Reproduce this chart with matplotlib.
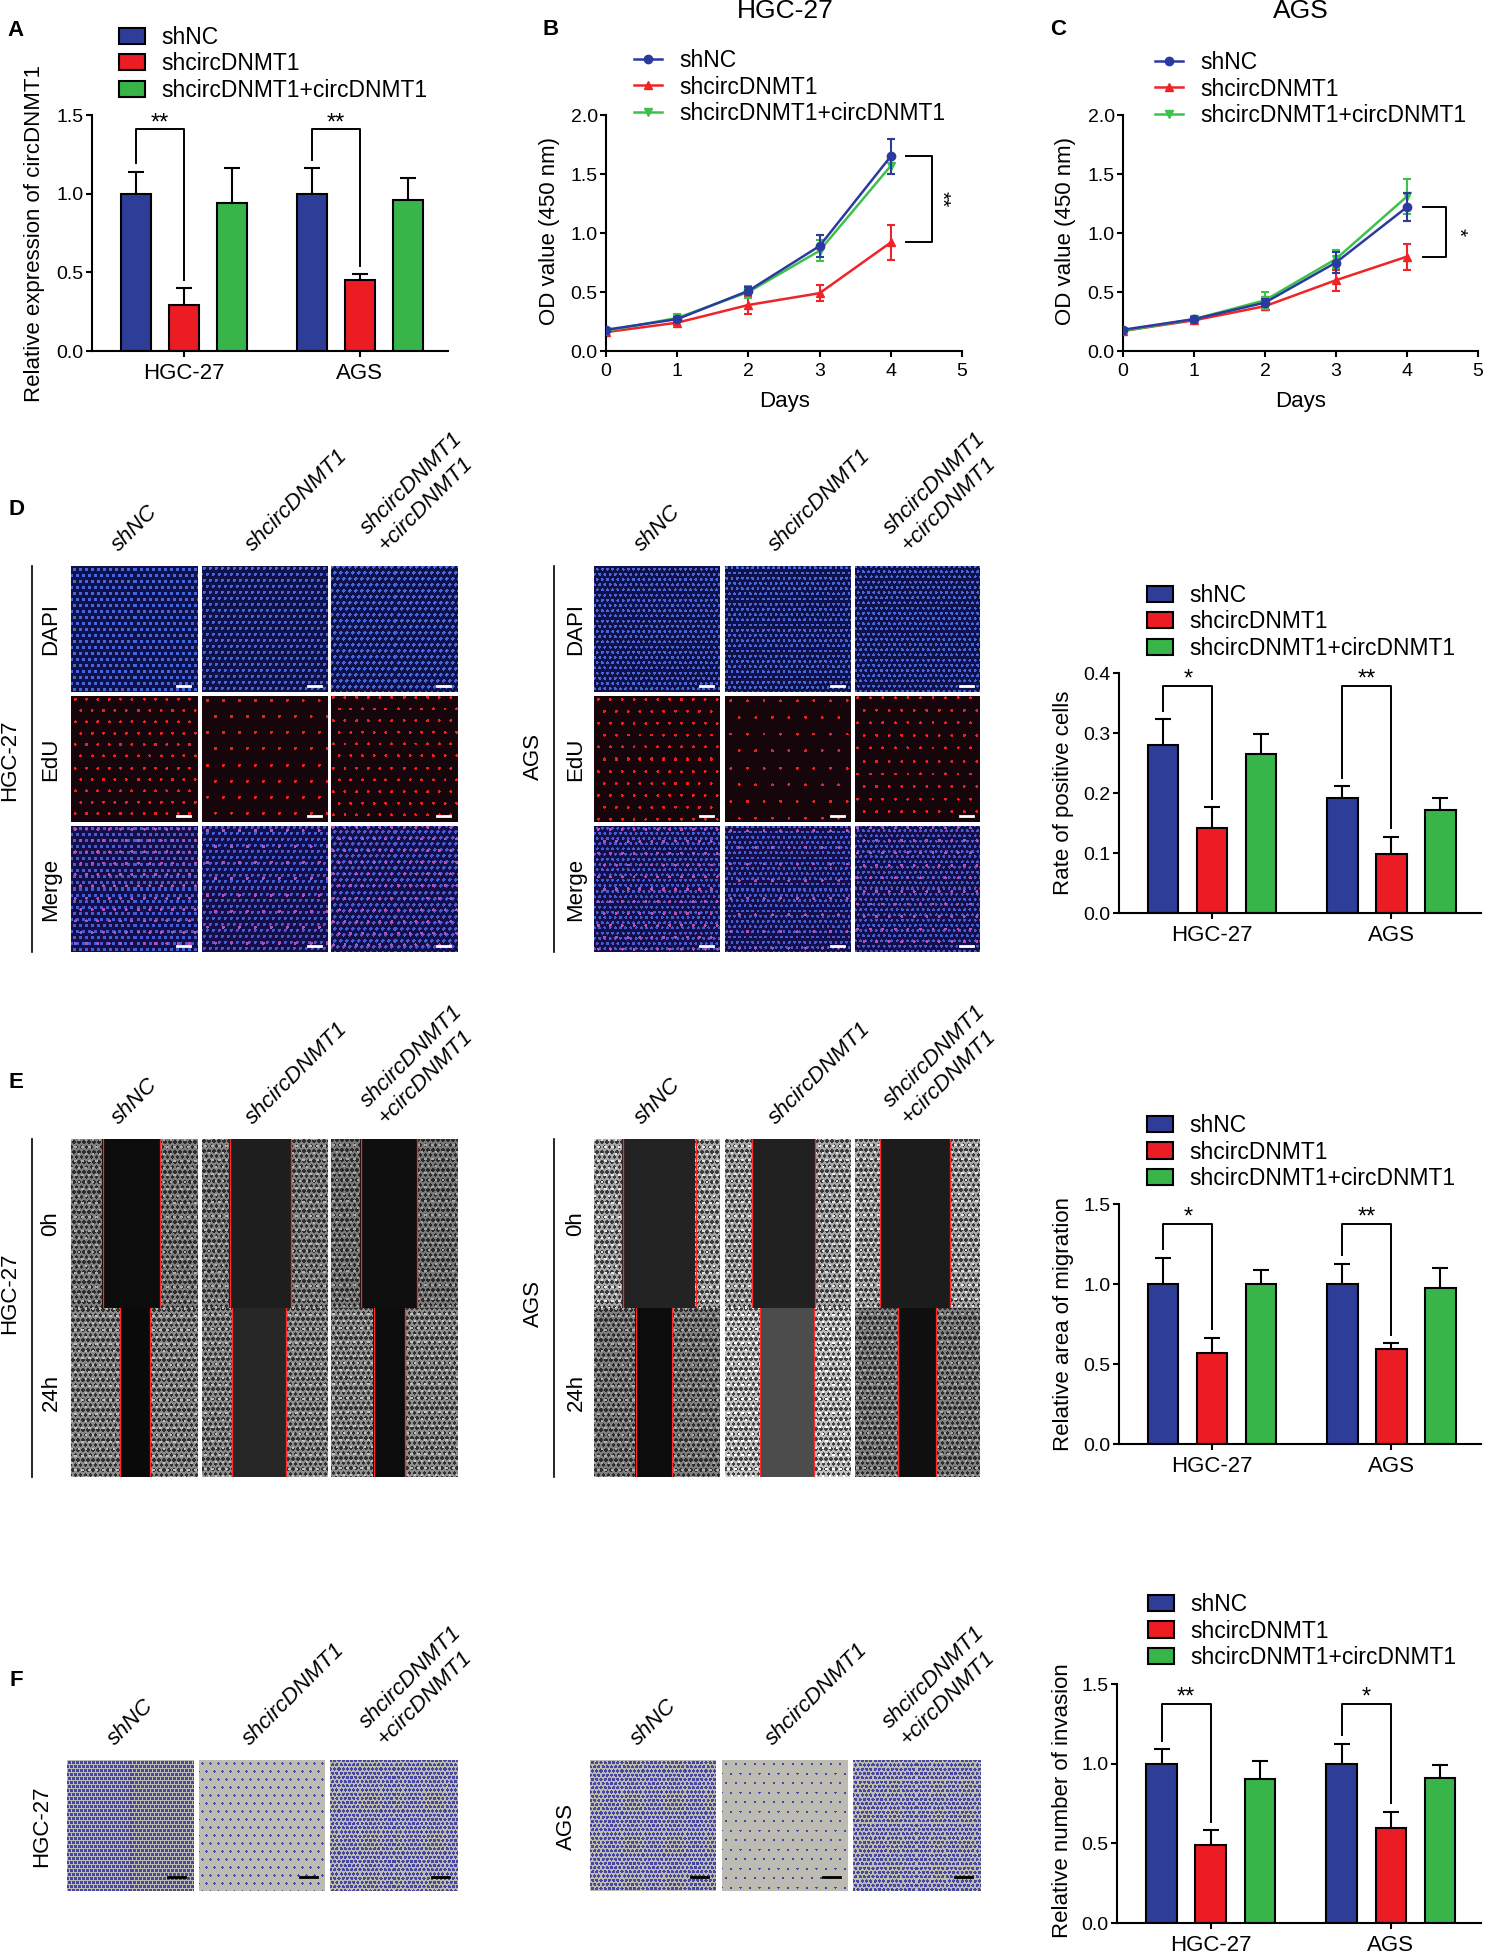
import numpy as np
import matplotlib.pyplot as plt
from matplotlib.lines import Line2D

plt.rcParams['font.family'] = ['Liberation Sans', 'DejaVu Sans']

W, H = 1485, 1951

groups = ["HGC-27", "AGS"]
conds = ["shNC", "shcircDNMT1", "shcircDNMT1+circDNMT1"]
col_labels = ["shNC", "shcircDNMT1", "shcircDNMT1\n+circDNMT1"]
bar_colors = ["#2e3d98", "#ec1c24", "#38b549"]
line_colors = ["#2b3a9e", "#ee2428", "#3cc24b"]
line_markers = ['o', '^', 'v']

# A: relative expression of circDNMT1, per condition -> [HGC-27, AGS]
a_mean = [[1.00, 1.00], [0.29, 0.45], [0.94, 0.96]]
a_err = [[0.14, 0.16], [0.11, 0.04], [0.22, 0.14]]
a_sig = ["**", "**"]

# B / C: CCK-8 growth curves, OD 450 nm
days = [0, 1, 2, 3, 4]
b_mean = [[0.18, 0.27, 0.51, 0.89, 1.65],
          [0.16, 0.24, 0.39, 0.49, 0.92],
          [0.17, 0.28, 0.50, 0.85, 1.57]]
b_err = [[0.01, 0.02, 0.03, 0.09, 0.15],
         [0.01, 0.02, 0.08, 0.07, 0.15],
         [0.01, 0.03, 0.05, 0.09, 0.07]]
c_mean = [[0.18, 0.27, 0.41, 0.75, 1.22],
          [0.17, 0.26, 0.38, 0.60, 0.80],
          [0.17, 0.27, 0.43, 0.78, 1.31]]
c_err = [[0.01, 0.02, 0.03, 0.09, 0.12],
         [0.01, 0.02, 0.03, 0.09, 0.11],
         [0.01, 0.02, 0.07, 0.08, 0.15]]

# D: EdU positive rate
d_mean = [[0.280, 0.192], [0.141, 0.098], [0.265, 0.172]]
d_err = [[0.043, 0.019], [0.035, 0.029], [0.034, 0.019]]
d_sig = ["*", "**"]

# E: relative migration area
e_mean = [[1.00, 1.00], [0.566, 0.596], [1.00, 0.975]]
e_err = [[0.164, 0.127], [0.099, 0.033], [0.085, 0.125]]
e_sig = ["*", "**"]

# F: relative invasion number
f_mean = [[1.00, 1.00], [0.488, 0.595], [0.905, 0.909]]
f_err = [[0.090, 0.125], [0.095, 0.103], [0.111, 0.080]]
f_sig = ["**", "*"]

fig = plt.figure(figsize=(W / 100, H / 100), dpi=100)


def px_axes(l, t, r, b):
    return fig.add_axes([l / W, 1 - b / H, (r - l) / W, (b - t) / H])


def ftext(x, y, s, **kw):
    return fig.text(x / W, 1 - y / H, s, **kw)


def style_axes(ax):
    for s in ['top', 'right']:
        ax.spines[s].set_visible(False)
    for s in ['left', 'bottom']:
        ax.spines[s].set_linewidth(1.5)
    ax.tick_params(axis='both', direction='out', length=4.5, width=1.5)
    ax.tick_params(axis='y', labelsize=14, pad=1.5)


def bar_panel(box, means, errs, sigs, ymax, ystep, top, ylabel, ylab_xy, leg_xy):
    ax = px_axes(*box)
    x = np.arange(len(groups))
    offs = [-0.273, 0.0, 0.273]
    for i in range(3):
        ax.bar(x + offs[i], means[i], 0.17, color=bar_colors[i], edgecolor='black',
               linewidth=1.5, label=conds[i], zorder=2)
        ax.errorbar(x + offs[i], means[i], yerr=errs[i], fmt='none', ecolor='black',
                    elinewidth=1.5, capsize=5.5, capthick=1.5, zorder=1)
    gap = 0.035 * ymax
    for g in range(len(groups)):
        xl, xr = x[g] + offs[0], x[g] + offs[1]
        yl = means[0][g] + errs[0][g] + gap
        yr = means[1][g] + errs[1][g] + gap
        ax.plot([xl, xl, xr, xr], [yl, top, top, yr], color='black', lw=1.4, zorder=3)
        ax.text((xl + xr) / 2, top, sigs[g], ha='center', va='baseline', fontsize=17)
    ax.set_xlim(-0.52, 1.5)
    ax.set_ylim(0, ymax)
    yt = np.arange(0, ymax + ystep / 2, ystep)
    ax.set_yticks(yt)
    ax.set_yticklabels([f"{v:.1f}" for v in yt])
    ax.set_xticks(x)
    ax.set_xticklabels(groups, fontsize=16)
    style_axes(ax)
    ax.tick_params(axis='x', pad=4)
    ax.legend(loc='center left', bbox_to_anchor=(leg_xy[0] / W, 1 - leg_xy[1] / H),
              bbox_transform=fig.transFigure, frameon=False, fontsize=16.5,
              handlelength=1.15, handleheight=0.7, handletextpad=0.7,
              labelspacing=0.15, borderpad=0, borderaxespad=0)
    ftext(ylab_xy[0], ylab_xy[1], ylabel, rotation=90, ha='center', va='center', fontsize=16)
    return ax


def line_panel(box, means, errs, title, title_x, sig, br_x, star_x, leg_xy, ylab_x):
    ax = px_axes(*box)
    zs = [4, 2, 3]
    for i in range(3):
        ax.errorbar(days, means[i], yerr=errs[i], color=line_colors[i],
                    marker=line_markers[i], ms=6, lw=1.8, elinewidth=1.5, capsize=3,
                    capthick=1.5, zorder=zs[i])
    y_top, y_bot = means[0][-1], means[1][-1]
    ax.plot([br_x[0], br_x[1], br_x[1], br_x[0]], [y_top, y_top, y_bot, y_bot],
            color='black', lw=1.4, clip_on=False)
    ax.text(star_x, (y_top + y_bot) / 2, sig, rotation=270, ha='center', va='center',
            fontsize=15)
    ax.set_xlim(0, 5)
    ax.set_ylim(0, 2.0)
    ax.set_xticks(range(6))
    ax.set_yticks([0, 0.5, 1.0, 1.5, 2.0])
    ax.set_yticklabels(["0.0", "0.5", "1.0", "1.5", "2.0"])
    style_axes(ax)
    ax.tick_params(axis='x', labelsize=14, pad=4)
    handles = [Line2D([], [], color=line_colors[i], marker=line_markers[i], ms=6, lw=1.8)
               for i in range(3)]
    ax.legend(handles, conds, loc='center left',
              bbox_to_anchor=(leg_xy[0] / W, 1 - leg_xy[1] / H),
              bbox_transform=fig.transFigure, frameon=False, fontsize=16.5,
              handlelength=1.2, handletextpad=0.8, labelspacing=0.15,
              borderpad=0, borderaxespad=0)
    ftext(title_x, 18, title, ha='center', va='baseline', fontsize=19)
    ftext(title_x, 401, "Days", ha='center', va='center', fontsize=16)
    ftext(ylab_x, 231, "OD value (450 nm)", rotation=90, ha='center', va='center', fontsize=16)
    return ax


# ---------- microscopy-like image helpers ----------
def lattice(h, w, step, r, shift=0.0):
    yy, xx = np.mgrid[0:h, 0:w].astype(float)
    yy = yy + shift
    row = np.floor(yy / step)
    xs = xx + shift + (row % 2) * step / 2
    dx = xs % step - step / 2
    dy = yy % step - step / 2
    return dx ** 2 + dy ** 2 <= r ** 2


def show_img(box, arr):
    ax = px_axes(*box)
    h, w = arr.shape[:2]
    ax.imshow(arr, extent=(0, w, h, 0), aspect='auto', interpolation='nearest')
    ax.set_xlim(0, w)
    ax.set_ylim(h, 0)
    ax.axis('off')
    return ax


def col_headers(cols, y_top):
    offs = [-12, -9, -5]
    for j, (l, r) in enumerate(cols):
        cc = (l + r) / 2
        ftext(cc + offs[j], y_top - 10, col_labels[j], rotation=45, rotation_mode='anchor',
              ha='left', va='bottom', fontsize=16, style='italic', linespacing=1.25)


def vline(x, y0, y1):
    fig.add_artist(Line2D([x / W, x / W], [1 - y0 / H, 1 - y1 / H], color='black', lw=1.2))


# ---------- panels A, B, C ----------
bar_panel((92, 115, 448, 351), a_mean, a_err, a_sig, 1.5, 0.5, 1.41,
          "Relative expression of circDNMT1", (35, 233), (119, 64))
line_panel((606, 115, 962, 351), b_mean, b_err, "HGC-27", 785, "**",
           (4.21, 4.58), 4.71, (634, 87), 549)
line_panel((1123, 115, 1478, 351), c_mean, c_err, "AGS", 1301, "*",
           (4.23, 4.55), 4.72, (1155, 89), 1066)

# ---------- panel D: EdU ----------
d_cols = [[(71, 197), (202, 328), (331, 457)], [(594, 720), (725, 851), (855, 980)]]
d_rows = [(566, 692), (696, 822), (826, 952)]
d_row_names = ["DAPI", "EdU", "Merge"]
d_dapi = [(6.0, 1.7), (5.2, 1.5)]
d_row_x = [51, 576]
d_group_xy = [(10, 760), (533, 756)]
d_line_x = [32, 554]

for g in range(2):
    col_headers(d_cols[g], d_rows[0][0])
    for k, name in enumerate(d_row_names):
        ftext(d_row_x[g], (d_rows[k][0] + d_rows[k][1]) / 2, name, rotation=90,
              ha='center', va='center', fontsize=16)
    ftext(d_group_xy[g][0], d_group_xy[g][1], groups[g], rotation=90, ha='center',
          va='center', fontsize=16)
    vline(d_line_x[g], d_rows[0][0], d_rows[2][1])
    step, rad = d_dapi[g]
    for j, (l, r) in enumerate(d_cols[g]):
        edu_step = step / np.sqrt(d_mean[j][g])
        for k, (t, b) in enumerate(d_rows):
            h, w = b - t, r - l
            nuc = lattice(h, w, step, rad, shift=j * 1.3)
            pos = lattice(h, w, edu_step, 1.5, shift=2.0 + j)
            arr = np.zeros((h, w, 3))
            if k == 0:
                arr[:] = (0.06, 0.07, 0.30)
                arr[nuc] = (0.28, 0.40, 0.85)
            elif k == 1:
                arr[:] = (0.09, 0.02, 0.04)
                arr[pos] = (0.92, 0.13, 0.13)
            else:
                arr[:] = (0.08, 0.06, 0.30)
                arr[nuc] = (0.27, 0.37, 0.82)
                arr[pos] = (0.72, 0.32, 0.72)
            ax = show_img((l, t, r, b), arr)
            ax.plot([w - 20, w - 7], [h - 6, h - 6], color='white', lw=2)

bar_panel((1119, 673, 1481, 913), d_mean, d_err, d_sig, 0.4, 0.1, 0.379,
          "Rate of positive cells", (1063, 793), (1147, 622))

# ---------- panel E: wound healing ----------
e_cols = d_cols
e_rows = [(1139, 1308), (1308, 1477)]
e_row_names = ["0h", "24h"]
# scratch edges as fractions of image width: [group][row][col]
e_strips = [[[(0.25, 0.71), (0.22, 0.71), (0.235, 0.68)],
             [(0.39, 0.63), (0.24, 0.67), (0.34, 0.59)]],
            [[(0.227, 0.808), (0.217, 0.717), (0.20, 0.76)],
             [(0.33, 0.62), (0.28, 0.71), (0.345, 0.65)]]]
e_bg = [[[0.50, 0.52, 0.48], [0.55, 0.55, 0.56]],
        [[0.66, 0.66, 0.66], [0.50, 0.76, 0.50]]]
e_gap = [[[0.05, 0.12, 0.06], [0.04, 0.15, 0.05]],
         [[0.14, 0.13, 0.11], [0.05, 0.30, 0.06]]]
e_group_xy = [(10, 1293), (533, 1303)]

for g in range(2):
    col_headers(e_cols[g], e_rows[0][0])
    for k, name in enumerate(e_row_names):
        ftext(d_row_x[g], (e_rows[k][0] + e_rows[k][1]) / 2, name, rotation=90,
              ha='center', va='center', fontsize=16)
    ftext(e_group_xy[g][0], e_group_xy[g][1], groups[g], rotation=90, ha='center',
          va='center', fontsize=16)
    vline(d_line_x[g], e_rows[0][0], e_rows[1][1])
    for j, (l, r) in enumerate(e_cols[g]):
        for k, (t, b) in enumerate(e_rows):
            h, w = b - t, r - l
            bg = e_bg[g][k][j]
            arr = np.zeros((h, w, 3))
            arr[:] = bg
            arr[lattice(h, w, 5.0, 1.6, shift=k + j)] = bg * 0.35
            arr[lattice(h, w, 7.0, 1.2, shift=3 + j)] = min(bg * 1.35, 1.0)
            a, c = e_strips[g][k][j]
            arr[:, int(a * w):int(c * w)] = e_gap[g][k][j]
            ax = show_img((l, t, r, b), arr)
            ax.axvline(a * w, color='#ff2a2a', lw=0.9)
            ax.axvline(c * w, color='#ff2a2a', lw=0.9)

bar_panel((1119, 1204, 1481, 1444), e_mean, e_err, e_sig, 1.5, 0.5, 1.378,
          "Relative area of migration", (1063, 1324), (1147, 1152))

# ---------- panel F: transwell invasion ----------
f_cols = [[(67, 193), (199, 325), (330, 457)], [(590, 716), (722, 848), (853, 980)]]
f_row = (1760, 1891)
f_steps = [[4.0, 8.0, 4.2], [4.2, 9.5, 4.3]]
f_rad = [[1.6, 1.2, 1.6], [1.6, 1.1, 1.6]]
f_group_xy = [(42, 1826), (566, 1826)]

for g in range(2):
    col_headers(f_cols[g], f_row[0])
    ftext(f_group_xy[g][0], f_group_xy[g][1], groups[g], rotation=90, ha='center',
          va='center', fontsize=16)
    for j, (l, r) in enumerate(f_cols[g]):
        t, b = f_row
        h, w = b - t, r - l
        arr = np.zeros((h, w, 3))
        arr[:] = (0.74, 0.74, 0.70)
        arr[lattice(h, w, f_steps[g][j], f_rad[g][j], shift=j)] = (0.28, 0.28, 0.64)
        ax = show_img((l, t, r, b), arr)
        ax.plot([w - 25, w - 8], [h - 14, h - 14], color='black', lw=2)

bar_panel((1117, 1684, 1481, 1923), f_mean, f_err, f_sig, 1.5, 0.5, 1.375,
          "Relative number of invasion", (1063, 1801), (1148, 1631))

# ---------- panel letters ----------
for letter, (x, y) in zip("ABCDEF", [(16, 36), (551, 35), (1058, 35),
                                      (16, 515), (16, 1088), (16, 1686)]):
    ftext(x, y, letter, ha='center', va='baseline', fontsize=16, fontweight='bold')

fig.savefig("out.png", dpi=100)
